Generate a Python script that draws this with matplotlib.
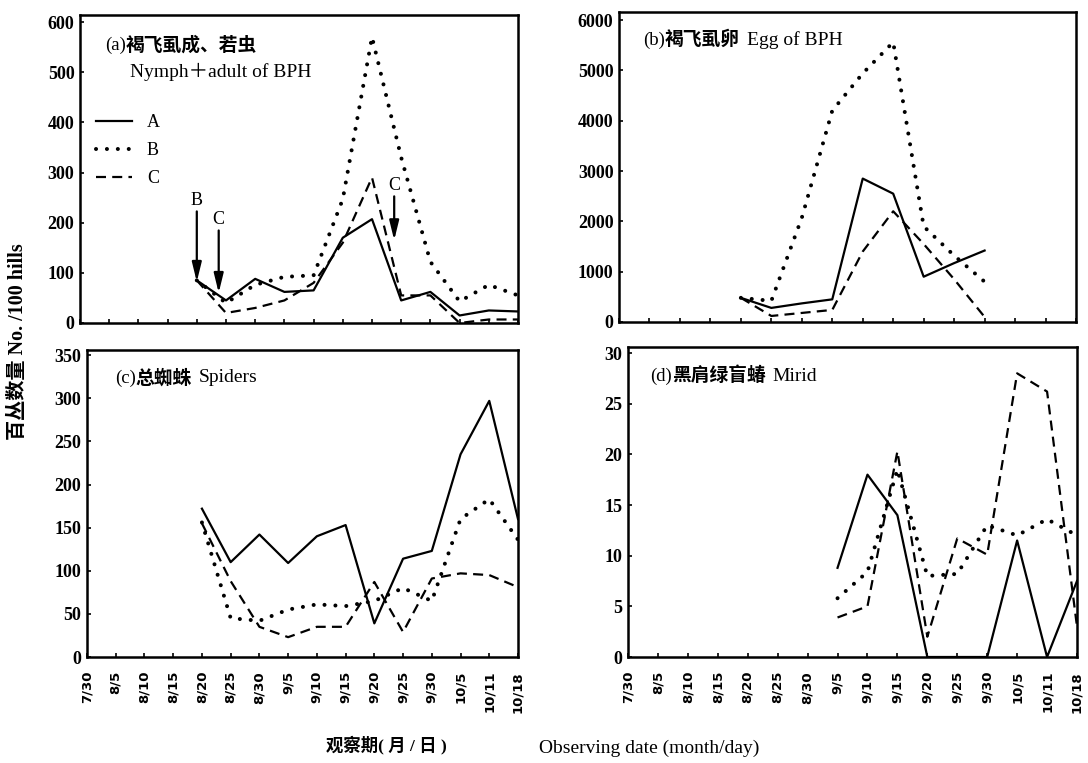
import matplotlib
matplotlib.use("Agg")
import matplotlib.pyplot as plt
import numpy as np

plt.rcParams['font.family'] = ['Liberation Serif', 'Noto Sans CJK SC', 'DejaVu Sans']

nan = np.nan
dates = ["7/30", "8/5", "8/10", "8/15", "8/20", "8/25", "8/30", "9/5",
         "9/10", "9/15", "9/20", "9/25", "9/30", "10/5", "10/11", "10/18"]

# (a) BPH nymph + adult
bph_a = [nan, nan, nan, nan, 85, 45, 88, 62, 65, 170, 207, 45, 62, 15, 25, 23]
bph_b = [nan, nan, nan, nan, 85, 40, 76, 92, 95, 247, 570, 330, 122, 43, 76, 55]
bph_c = [nan, nan, nan, nan, 85, 20, 30, 45, 80, 160, 290, 55, 55, 0, 7, 7]

# (b) BPH eggs
egg_a = [nan, nan, nan, nan, 480, 280, 370, 450, 2850, 2550, 900, 1170, 1420, nan, nan, nan]
egg_b = [nan, nan, nan, nan, 480, 420, 2070, 4200, 4940, 5560, 1900, 1320, 800, nan, nan, nan]
egg_c = [nan, nan, nan, nan, 480, 120, 180, 240, 1400, 2200, 1550, 850, 100, nan, nan, nan]

# (c) spiders
spd_a = [nan, nan, nan, nan, 172, 110, 142, 109, 140, 153, 39, 114, 123, 235, 297, 160]
spd_b = [nan, nan, nan, nan, 156, 45, 42, 55, 61, 59, 65, 80, 65, 160, 183, 136]
spd_c = [nan, nan, nan, nan, 155, 88, 35, 23, 35, 35, 87, 29, 91, 97, 95, 81]

# (d) mirid
mir_a = [nan, nan, nan, nan, nan, nan, nan, 8.8, 18, 14, 0, 0, 0, 11.5, 0, 7.5]
mir_b = [nan, nan, nan, nan, nan, nan, nan, 5.8, 8.4, 18.5, 8, 8.2, 13, 12, 13.6, 12]
mir_c = [nan, nan, nan, nan, nan, nan, nan, 3.9, 5, 20.3, 2, 11.7, 10.1, 28, 26.2, 3]

W, H = 1088, 763
fig = plt.figure(figsize=(W / 100, H / 100), dpi=100)


def box(l, t, r, b):
    return [l / W, 1 - b / H, (r - l) / W, (b - t) / H]


DOT = dict(color="black", lw=2.9, linestyle=(0, (0.01, 2.7)), dash_capstyle="round")
SOLID = dict(color="black", lw=1.6)
DASH = dict(color="black", lw=1.6, linestyle=(0, (4.5, 2.8)))


def panel(rect, a, b, c, ymax, yticks, labels):
    ax = fig.add_axes(box(*rect))
    x = np.arange(len(dates))
    la, = ax.plot(x, a, **SOLID)
    lb, = ax.plot(x, b, **DOT)
    lc, = ax.plot(x, c, **DASH)
    ax.set_xlim(0, len(dates) - 1)
    ax.set_ylim(0, ymax)
    ax.set_yticks(yticks)
    ax.set_xticks(x)
    if labels:
        ax.set_xticklabels(dates, rotation=90, family="DejaVu Sans",
                           fontweight="bold", fontsize=9.5)
    else:
        ax.set_xticklabels([])
    ax.tick_params(direction="in", length=3, width=1.2)
    ax.tick_params(axis="x", pad=10)
    ax.tick_params(axis="y", pad=4)
    for t in ax.get_yticklabels():
        t.set_fontweight("bold")
        t.set_fontsize(13)
    for s in ax.spines.values():
        s.set_linewidth(1.8)
    return ax, (la, lb, lc)


ax_a, lines = panel((80, 15, 518, 323), bph_a, bph_b, bph_c, 614,
                    range(0, 601, 100), False)
ax_b, _ = panel((619, 12, 1076, 322), egg_a, egg_b, egg_c, 6160,
                range(0, 6001, 1000), False)
ax_c, _ = panel((87, 350, 518, 657), spd_a, spd_b, spd_c, 356,
                range(0, 351, 50), True)
ax_d, _ = panel((628, 347, 1077, 657), mir_a, mir_b, mir_c, 30.6,
                range(0, 31, 5), True)


def title(ax, x, y, tag, cn, en):
    t = ax.text(x, y, tag, transform=ax.transAxes, fontsize=13.5, va="center")
    t2 = ax.annotate(cn, xy=(1, 0.5), xycoords=t, xytext=(0, 0),
                     textcoords="offset points", fontsize=13.5,
                     fontweight="bold", va="center")
    if en:
        ax.annotate(en, xy=(1, 0.5), xycoords=t2, xytext=(5, 0),
                    textcoords="offset points", fontsize=14, va="center")


title(ax_a, 0.057, 0.90, "(a)", "褐飞虱成、若虫", None)
ax_a.text(0.114, 0.815, "Nymph＋adult of BPH", transform=ax_a.transAxes,
          fontsize=14, va="center")
title(ax_b, 0.053, 0.91, "(b)", "褐飞虱卵", "Egg of BPH")
title(ax_c, 0.065, 0.909, "(c)", "总蜘蛛", "Spiders")
title(ax_d, 0.049, 0.906, "(d)", "黑肩绿盲蝽", "Mirid")

ax_a.legend(lines, ["A", "B", "C"], loc="upper left", bbox_to_anchor=(0.0, 0.73),
            frameon=False, fontsize=13, handlelength=2.0, labelspacing=0.6,
            handletextpad=0.8)

arrow = dict(arrowstyle="-|>,head_length=0.9,head_width=0.22", color="black",
             lw=1.6, shrinkA=0, shrinkB=0)
ax_a.annotate("B", xy=(4, 82), xytext=(4, 228), ha="center", va="bottom",
              fontsize=13, arrowprops=arrow)
ax_a.annotate("C", xy=(4.75, 60), xytext=(4.75, 190), ha="center", va="bottom",
              fontsize=13, arrowprops=arrow)
ax_a.annotate("C", xy=(10.76, 165), xytext=(10.76, 258), ha="center", va="bottom",
              fontsize=13, arrowprops=arrow)

fig.text(18 / W, 1 - 342 / H, "百丛数量 No. /100 hills", rotation=90,
         ha="center", va="center", fontsize=14.5, fontweight="bold")
fig.text(386 / W, 1 - 745 / H, "观察期( 月 / 日 )", ha="center", va="center",
         fontsize=12.5, fontweight="bold")
fig.text(649 / W, 1 - 748 / H, "Observing date (month/day)", ha="center",
         va="center", fontsize=14)

fig.savefig("out.png", dpi=100)
